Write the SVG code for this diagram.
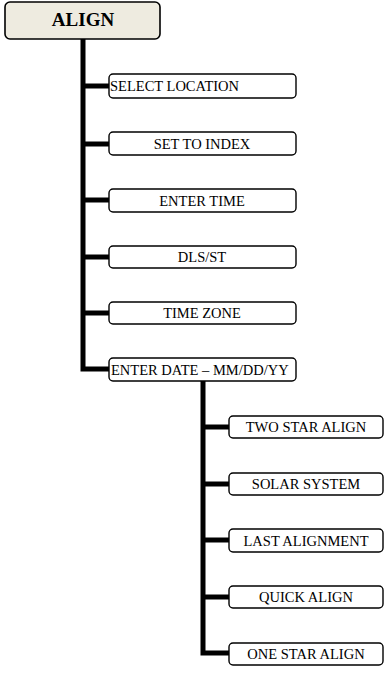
<svg xmlns="http://www.w3.org/2000/svg" width="385" height="677" viewBox="0 0 385 677">
<style>
.box{fill:#ffffff;stroke:#000;stroke-width:1.4}
.root{fill:#EEEBE0;stroke:#000;stroke-width:1.6}
.t{font-family:"Liberation Serif","Times New Roman",serif;font-size:14.5px;fill:#000}
.c{text-anchor:middle}
.rt{font-family:"Liberation Serif","Times New Roman",serif;font-size:19px;font-weight:bold;text-anchor:middle;fill:#000}
.ln{fill:none;stroke:#000;stroke-width:5;stroke-linejoin:miter}
</style>
<rect width="385" height="677" fill="#fff"/>
<g id="connectors">
<path class="ln" d="M83,39 V369 H109"/>
<path class="ln" d="M83,86 H109"/>
<path class="ln" d="M83,144 H109"/>
<path class="ln" d="M83,200 H109"/>
<path class="ln" d="M83,257 H109"/>
<path class="ln" d="M83,313 H109"/>
<path class="ln" d="M203,381 V653 H229"/>
<path class="ln" d="M203,427 H229"/>
<path class="ln" d="M203,484 H229"/>
<path class="ln" d="M203,540 H229"/>
<path class="ln" d="M203,597 H229"/>
</g>
<g id="align">
<rect class="root" x="5" y="2" width="155" height="37" rx="5"/>
<text class="rt" x="83" y="26">ALIGN</text>
</g>
<g id="select-location">
<rect class="box" x="109" y="74" width="187" height="24" rx="4"/>
<text class="t" x="110" y="91">SELECT LOCATION</text>
</g>
<g id="set-to-index">
<rect class="box" x="109" y="132" width="187" height="23" rx="4"/>
<text class="t c" x="202" y="148.5">SET TO INDEX</text>
</g>
<g id="enter-time">
<rect class="box" x="109" y="189" width="187" height="23" rx="4"/>
<text class="t c" x="202" y="205.5">ENTER TIME</text>
</g>
<g id="dls-st">
<rect class="box" x="109" y="246" width="187" height="22" rx="4"/>
<text class="t c" x="202" y="262">DLS/ST</text>
</g>
<g id="time-zone">
<rect class="box" x="109" y="302" width="187" height="22" rx="4"/>
<text class="t c" x="202" y="318">TIME ZONE</text>
</g>
<g id="enter-date">
<rect class="box" x="109" y="358" width="187" height="23" rx="4"/>
<text class="t" x="111" y="374.5">ENTER DATE – MM/DD/YY</text>
</g>
<g id="two-star-align">
<rect class="box" x="229" y="416" width="154" height="22" rx="4"/>
<text class="t c" x="306" y="432">TWO STAR ALIGN</text>
</g>
<g id="solar-system">
<rect class="box" x="229" y="473" width="154" height="22" rx="4"/>
<text class="t c" x="306" y="489">SOLAR SYSTEM</text>
</g>
<g id="last-alignment">
<rect class="box" x="229" y="529" width="154" height="23" rx="4"/>
<text class="t c" x="306" y="545.5">LAST ALIGNMENT</text>
</g>
<g id="quick-align">
<rect class="box" x="229" y="586" width="154" height="22" rx="4"/>
<text class="t c" x="306" y="602">QUICK ALIGN</text>
</g>
<g id="one-star-align">
<rect class="box" x="229" y="643" width="154" height="22" rx="4"/>
<text class="t c" x="306" y="659">ONE STAR ALIGN</text>
</g>
</svg>
